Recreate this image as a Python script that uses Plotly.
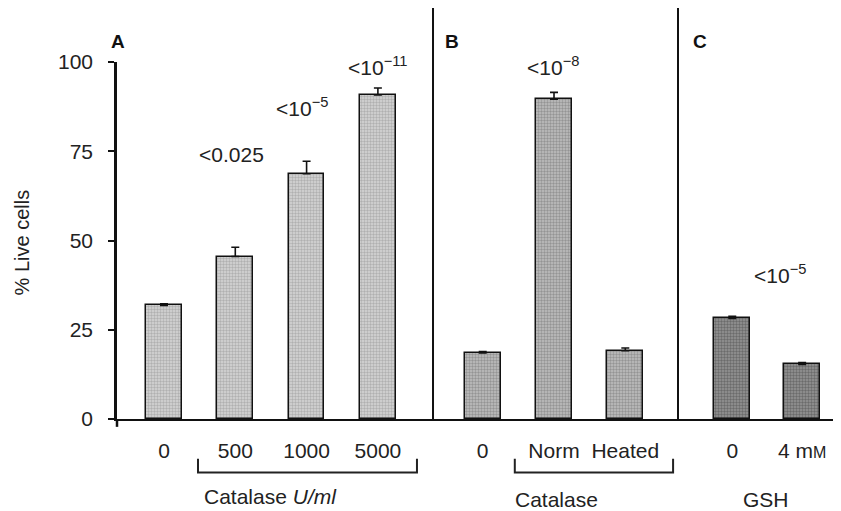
import plotly.graph_objects as go

# ---- data ----
panel_a_labels = ["0", "500", "1000", "5000"]
panel_a_values = [31.8, 45.5, 68.7, 90.8]
panel_a_errors = [0.5, 2.6, 3.5, 1.9]

panel_b_labels = ["0", "Norm", "Heated"]
panel_b_values = [18.5, 89.6, 19.1]
panel_b_errors = [0.4, 1.9, 0.8]

panel_c_labels = ["0", "4 m<span style='font-size:16px'>M</span>"]
panel_c_values = [28.2, 15.3]
panel_c_errors = [0.6, 0.5]

p_labels = ["<0.025", "<10<sup>\u22125</sup>", "<10<sup>\u221211</sup>",
            "<10<sup>\u22128</sup>", "<10<sup>\u22125</sup>"]

y_ticks = [0, 25, 50, 75, 100]

# ---- layout positions ----
pos_a = [0, 1, 2, 3]
pos_b = [4.47, 5.47, 6.47]
pos_c = [7.97, 8.95]
p_pos = [(0.95, 74), (1.94, 87.5), (3.0, 99), (5.46, 99), (8.64, 40.5)]
sep_pos = [3.773, 7.209]
X0, X1 = -0.659, 9.495


def xp(x):
    return (x - X0) / (X1 - X0)


FONT = "Liberation Sans, Arial, sans-serif"
TXT = "#222222"
FS = 21

fig = go.Figure()


def add_panel(pos, vals, errs, bg, fg):
    fig.add_trace(go.Bar(
        x=pos, y=vals, width=0.5,
        marker=dict(color=bg, line=dict(color="#111", width=1.5),
                    pattern=dict(shape=".", fgcolor=fg, bgcolor=bg, size=3, solidity=0.5)),
        error_y=dict(type="data", array=errs, arrayminus=[0] * len(errs), symmetric=False,
                     color="#111", thickness=1.6, width=4),
        showlegend=False, hoverinfo="skip",
    ))


add_panel(pos_a, panel_a_values, panel_a_errors, "#d6d6d6", "#8a8a8a")
add_panel(pos_b, panel_b_values, panel_b_errors, "#c0c0c0", "#686868")
add_panel(pos_c, panel_c_values, panel_c_errors, "#969696", "#404040")

shapes = []
for s in sep_pos:
    shapes.append(dict(type="line", xref="paper", yref="paper", x0=xp(s), x1=xp(s),
                       y0=0, y1=1.18, line=dict(color="#111", width=2)))
# y axis extension below zero
shapes.append(dict(type="line", xref="paper", yref="paper", x0=0, x1=0, y0=0, y1=-0.022,
                   line=dict(color="#111", width=2.5)))
# brackets
for (a, b) in [(0.477, 3.548), (4.92, 7.14)]:
    shapes.append(dict(type="path", xref="paper", yref="paper",
                       path=f"M {xp(a)},-0.111 L {xp(a)},-0.150 L {xp(b)},-0.150 L {xp(b)},-0.111",
                       line=dict(color="#222", width=2)))


def ann(**kw):
    base = dict(showarrow=False, xanchor="center", yanchor="middle")
    base.update(kw)
    return base


annotations = []
for (x, y), t in zip(p_pos, p_labels):
    annotations.append(ann(x=x, y=y, xref="x", yref="y", text=t,
                           font=dict(family=FONT, size=FS, color=TXT)))
for lab, x in [("A", 0.0014), ("B", 0.463), ("C", 0.805)]:
    annotations.append(ann(x=x, y=1.057, xref="paper", yref="paper", text=f"<b>{lab}</b>",
                           font=dict(family=FONT, size=19, color="#111")))
annotations.append(ann(x=-0.131, y=0.495, xref="paper", yref="paper", text="% Live cells",
                       textangle=-90, font=dict(family=FONT, size=20, color=TXT)))
annotations.append(ann(x=xp(1.5), y=-0.218, xref="paper", yref="paper",
                       text="Catalase <i>U/ml</i>", font=dict(family=FONT, size=FS, color=TXT)))
annotations.append(ann(x=xp(5.5), y=-0.226, xref="paper", yref="paper", text="Catalase",
                       font=dict(family=FONT, size=FS, color=TXT)))
annotations.append(ann(x=xp(8.44), y=-0.226, xref="paper", yref="paper", text="GSH",
                       font=dict(family=FONT, size=FS, color=TXT)))

# the page body adds an 8px offset, so the margins are reduced by 8px on left/top
fig.update_layout(
    width=841, height=511,
    margin=dict(l=109, r=8, t=54, b=100, autoexpand=False),
    paper_bgcolor="white", plot_bgcolor="white",
    bargap=0,
    shapes=shapes, annotations=annotations,
    xaxis=dict(range=[X0, X1], tickvals=pos_a + pos_b + pos_c,
               ticktext=panel_a_labels + panel_b_labels + panel_c_labels,
               showline=True, linecolor="#111", linewidth=2, ticks="",
               showgrid=False, zeroline=False, ticklabelstandoff=12,
               tickfont=dict(family=FONT, size=FS, color=TXT)),
    yaxis=dict(range=[0, 100], tickvals=y_ticks, showline=True, linecolor="#111",
               linewidth=2.5, ticks="outside", ticklen=6, tickwidth=2, tickcolor="#111",
               showgrid=False, zeroline=False, ticklabelstandoff=11,
               tickfont=dict(family=FONT, size=FS, color=TXT)),
)

fig.write_html("out.html")
